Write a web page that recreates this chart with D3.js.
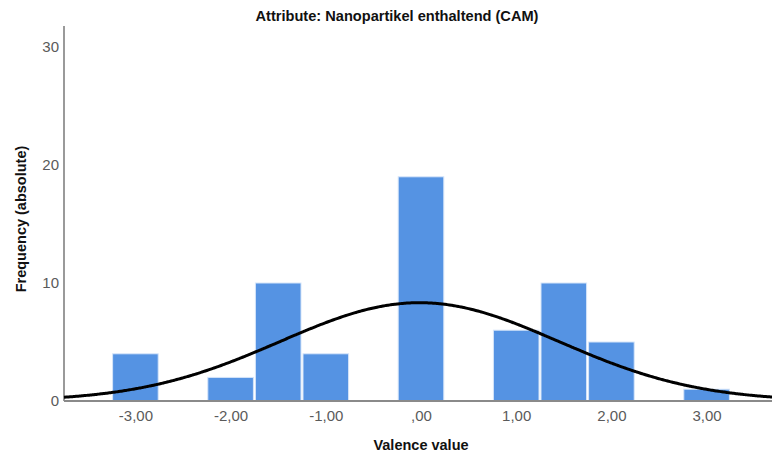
<!DOCTYPE html>
<html>
<head>
<meta charset="utf-8">
<script src="https://cdn.jsdelivr.net/npm/d3@7"></script>
<style>
  html, body { margin: 0; padding: 0; background: #fff; }
  svg { display: block; font-family: "Liberation Sans", Arial, sans-serif; }
</style>
</head>
<body>
<svg id="chart" width="772" height="455"></svg>
<script>
// Histogram bins (valence value ranges) and their absolute frequencies
const binStarts = [-3.25, -2.25, -1.75, -1.25, -0.25, 0.75, 1.25, 1.75, 2.75];
const binEnds   = [-2.75, -1.75, -1.25, -0.75,  0.25, 1.25, 1.75, 2.25, 3.25];
const binMids   = [-3, -2, -1.5, -1, 0, 1, 1.5, 2, 3];
const counts    = [4, 2, 10, 4, 19, 6, 10, 5, 1];

const xTickValues = [-3, -2, -1, 0, 1, 2, 3];
const xTickLabels = ["-3,00", "-2,00", "-1,00", ",00", "1,00", "2,00", "3,00"];
const yTickValues = [0, 10, 20, 30];

const titleText = "Attribute: Nanopartikel enthaltend (CAM)";
const xTitle = "Valence value";
const yTitle = "Frequency (absolute)";

const svg = d3.select("#chart");

const x = d3.scaleLinear().domain([-3.75, 3.75]).range([64, 778]);
const y = d3.scaleLinear().domain([0, 30]).range([401, 47]);

// Bars
svg.append("g").selectAll("rect")
  .data(counts.map((c, i) => ({ c, x0: binStarts[i], x1: binEnds[i] })))
  .join("rect")
  .attr("x", d => x(d.x0) + 1)
  .attr("width", d => x(d.x1) - x(d.x0) - 2)
  .attr("y", d => y(d.c))
  .attr("height", d => y(0) - y(d.c))
  .attr("fill", "#5593e3")
  .attr("stroke", "#d6e5f9")
  .attr("stroke-width", 1);

// Axes lines
svg.append("line")
  .attr("x1", 64).attr("x2", 64)
  .attr("y1", 26).attr("y2", y(0))
  .attr("stroke", "#9a9a9a").attr("stroke-width", 2);
svg.append("line")
  .attr("x1", 64).attr("x2", 772)
  .attr("y1", y(0)).attr("y2", y(0))
  .attr("stroke", "#8a8a8a").attr("stroke-width", 2);

// Y axis tick labels
const yAxis = d3.axisLeft(y).tickValues(yTickValues).tickSize(0).tickPadding(5);
const gy = svg.append("g").attr("transform", "translate(64,0)").call(yAxis);
gy.select(".domain").remove();
gy.selectAll("text")
  .attr("fill", "#5a5a5a")
  .style("font-size", "15px")
  .style("font-family", '"Liberation Sans", Arial, sans-serif');

// X axis tick labels
const xAxis = d3.axisBottom(x).tickValues(xTickValues)
  .tickFormat((d, i) => xTickLabels[i]).tickSize(0).tickPadding(9);
const gx = svg.append("g").attr("transform", `translate(0,${y(0)})`).call(xAxis);
gx.select(".domain").remove();
gx.selectAll("text")
  .attr("fill", "#5a5a5a")
  .style("font-size", "15px")
  .style("font-family", '"Liberation Sans", Arial, sans-serif');

// Normal curve fitted to the distribution
const n = d3.sum(counts);
const mean = d3.sum(counts.map((c, i) => c * binMids[i])) / n;
const variance = d3.sum(counts.map((c, i) => c * (binMids[i] - mean) ** 2)) / (n - 1);
const sd = Math.sqrt(variance);
const binWidth = 0.5;
const density = v => n * binWidth / (sd * Math.sqrt(2 * Math.PI)) *
  Math.exp(-((v - mean) ** 2) / (2 * variance));
const curvePts = d3.range(-3.75, 3.7501, 0.025).map(v => [v, density(v)]);
svg.append("path")
  .datum(curvePts)
  .attr("fill", "none")
  .attr("stroke", "#000")
  .attr("stroke-width", 3)
  .attr("d", d3.line().x(d => x(d[0])).y(d => y(d[1])).curve(d3.curveBasis));

// Titles
svg.append("text")
  .attr("x", 397).attr("y", 21)
  .attr("text-anchor", "middle")
  .style("font-size", "14.6px").style("font-weight", "bold")
  .attr("fill", "#111")
  .text(titleText);

svg.append("text")
  .attr("x", x(0)).attr("y", 450)
  .attr("text-anchor", "middle")
  .style("font-size", "14.5px").style("font-weight", "bold")
  .attr("fill", "#111")
  .text(xTitle);

svg.append("text")
  .attr("transform", "translate(26,219) rotate(-90)")
  .attr("text-anchor", "middle")
  .style("font-size", "14.5px").style("font-weight", "bold")
  .attr("fill", "#111")
  .text(yTitle);
</script>
</body>
</html>
